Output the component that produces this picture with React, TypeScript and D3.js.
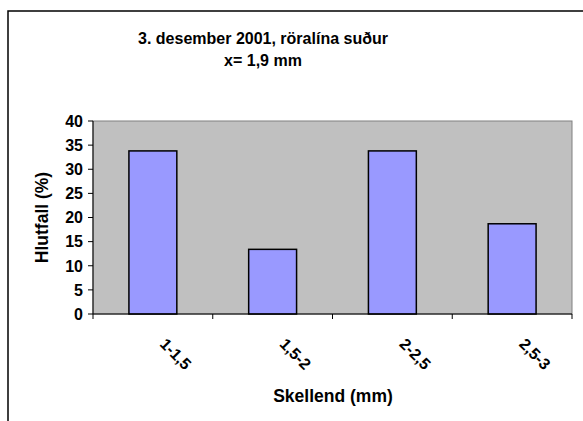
import React from "react";
import * as d3 from "d3";

const categories = ["1-1,5", "1,5-2", "2-2,5", "2,5-3"];
const values = [33.8, 13.4, 33.8, 18.7];
const yTicks = [0, 5, 10, 15, 20, 25, 30, 35, 40];
const titleLines = ["3. desember 2001, röralína suður", "x= 1,9 mm"];
const xTitle = "Skellend (mm)";
const yTitle = "Hlutfall (%)";

const W = 583;
const H = 421;
const plot = { left: 93, right: 572, top: 121, bottom: 314 };
const font = "'Liberation Sans', Arial, Helvetica, sans-serif";

export default function App() {
  const x = d3
    .scaleBand<string>()
    .domain(categories)
    .range([plot.left, plot.right])
    .paddingInner(0.6)
    .paddingOuter(0.3);
  const xOuter = d3.scaleBand<string>().domain(categories).range([plot.left, plot.right]);
  const y = d3.scaleLinear().domain([0, 40]).range([plot.bottom, plot.top]);

  return (
    <svg
      width={W}
      height={H}
      style={{ position: "absolute", left: 0, top: 0, display: "block" }}
      fontFamily={font}
    >
      <rect x={0} y={0} width={W} height={H} fill="#fff" />
      <rect x={8} y={11} width={W + 20} height={H + 20} fill="#fff" stroke="#000" strokeWidth={1.5} />
      {titleLines.map((t, i) => (
        <text
          key={i}
          x={263}
          y={44 + i * 22}
          textAnchor="middle"
          fontSize={16}
          fontWeight="bold"
          fill="#000"
        >
          {t}
        </text>
      ))}
      <rect
        x={plot.left}
        y={plot.top}
        width={plot.right - plot.left}
        height={plot.bottom - plot.top}
        fill="#C0C0C0"
        stroke="#808080"
        strokeWidth={1}
      />
      {categories.map((c, i) => (
        <rect
          key={c}
          x={x(c)}
          y={y(values[i])}
          width={x.bandwidth()}
          height={plot.bottom - y(values[i])}
          fill="#9999FF"
          stroke="#000"
          strokeWidth={1.5}
        />
      ))}
      {/* y axis */}
      <line x1={plot.left} x2={plot.left} y1={plot.top} y2={plot.bottom} stroke="#000" strokeWidth={1} />
      {yTicks.map((t) => (
        <g key={t}>
          <line x1={plot.left - 5} x2={plot.left} y1={y(t)} y2={y(t)} stroke="#000" />
          <text
            x={plot.left - 10}
            y={y(t)}
            dy="0.36em"
            textAnchor="end"
            fontSize={16}
            fontWeight="bold"
          >
            {t}
          </text>
        </g>
      ))}
      {/* x axis */}
      <line x1={plot.left} x2={plot.right} y1={plot.bottom} y2={plot.bottom} stroke="#000" strokeWidth={1} />
      {categories.map((c, i) => (
        <line
          key={"t" + i}
          x1={xOuter(c)}
          x2={xOuter(c)}
          y1={plot.bottom}
          y2={plot.bottom + 5}
          stroke="#000"
        />
      ))}
      <line x1={plot.right} x2={plot.right} y1={plot.bottom} y2={plot.bottom + 5} stroke="#000" />
      {categories.map((c) => {
        const cx = (xOuter(c) as number) + xOuter.bandwidth() / 2;
        return (
          <text
            key={"l" + c}
            transform={`translate(${cx + 6},${plot.bottom + 31}) rotate(45)`}
            fontSize={16}
            fontWeight="bold"
          >
            {c}
          </text>
        );
      })}
      <text x={333} y={402} textAnchor="middle" fontSize={17.5} fontWeight="bold">
        {xTitle}
      </text>
      <text
        transform={`translate(48,${(plot.top + plot.bottom) / 2}) rotate(-90)`}
        textAnchor="middle"
        fontSize={17.5}
        fontWeight="bold"
      >
        {yTitle}
      </text>
    </svg>
  );
}
